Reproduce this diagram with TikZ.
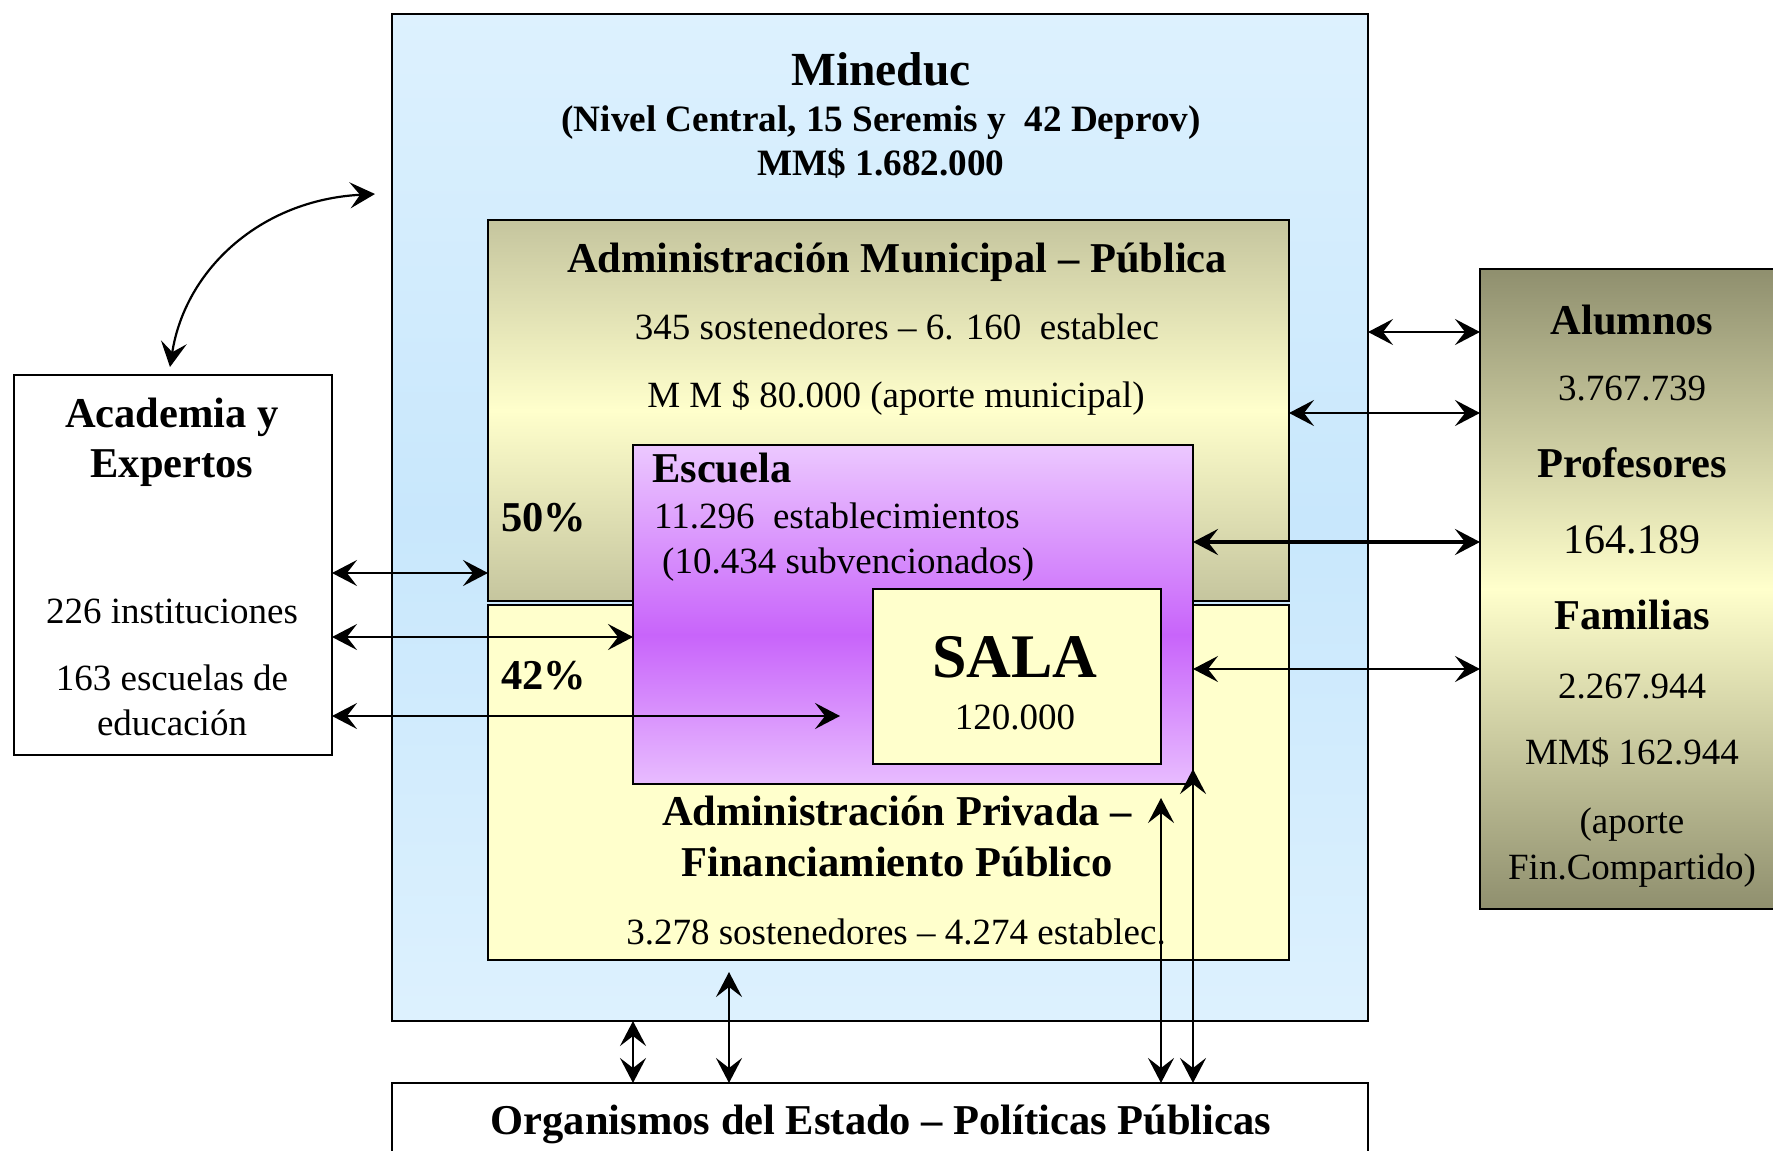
\documentclass[tikz,border=0pt]{standalone}
\usepackage{fontspec}
\setmainfont{Liberation Serif}
\usetikzlibrary{arrows.meta}
\definecolor{mbl}{RGB}{221,241,254}
\definecolor{mbm}{RGB}{200,231,252}
\definecolor{tan}{RGB}{197,197,158}
\definecolor{pyel}{RGB}{255,255,204}
\definecolor{lav}{RGB}{236,200,255}
\definecolor{lavb}{RGB}{232,188,255}
\definecolor{purp}{RGB}{200,100,250}
\definecolor{oliv}{RGB}{143,143,110}
\pgfdeclareverticalshading{escsh}{100bp}{color(0bp)=(lavb); color(25bp)=(lavb); color(47bp)=(purp); color(75bp)=(lav); color(100bp)=(lav)}
\begin{document}
\begin{tikzpicture}[x=1pt,y=-1pt,
  box/.style={draw=black, line width=2.3pt, inner sep=0pt, outer sep=0pt, anchor=north west},
  reg/.style={font=\fontsize{37}{44}\selectfont, inner sep=0pt, anchor=base},
  regl/.style={font=\fontsize{42}{50}\selectfont, inner sep=0pt, anchor=base},
  bld/.style={font=\fontsize{42.5}{50}\selectfont\bfseries, inner sep=0pt, anchor=base},
  bsm/.style={font=\fontsize{37.2}{44}\selectfont\bfseries, inner sep=0pt, anchor=base},
  tipx/.tip={Stealth[length=25pt,width=26pt,inset=10pt]},
  dbl/.style={tipx-tipx, line width=2.2pt},
]
\useasboundingbox (0,0) rectangle (1773,1151);
\clip (0,0) rectangle (1773,1151);

% boxes
\node[box, minimum width=976pt, minimum height=1007pt, top color=mbl, bottom color=mbl, middle color=mbm] (min) at (392,14) {};
\node[box, minimum width=801pt, minimum height=381pt, top color=tan, bottom color=tan, middle color=pyel] (mun) at (488,220) {};
\node[box, minimum width=801pt, minimum height=355pt, fill=pyel] (pri) at (488,605) {};
\node[box, minimum width=560pt, minimum height=339pt, shading=escsh] (esc) at (633,445) {};
\node[box, minimum width=288pt, minimum height=175pt, fill=pyel] (sala) at (873,589) {};
\node[box, minimum width=318pt, minimum height=380pt, fill=white] (aca) at (14,375) {};
\node[box, minimum width=340pt, minimum height=640pt, top color=oliv, bottom color=oliv, middle color=pyel] (rgt) at (1480,269) {};
\node[box, minimum width=976pt, minimum height=120pt, fill=white] (org) at (392,1083) {};

% Mineduc texts
\node[font=\fontsize{47.5}{56}\selectfont\bfseries, inner sep=0pt, anchor=base] (t1) at (881,85) {Mineduc};
\node[bsm] (t2) at (881,131) {(Nivel Central, 15 Seremis y\ \ 42 Deprov)};
\node[bsm] (t3) at (881,175) {MM\$ 1.682.000};

% Municipal
\node[bld] (m1) at (897,272) {Administración Municipal – Pública};
\node[reg] (m2) at (897,339) {345 sostenedores – 6. 160\ \ establec};
\node[reg] (m3) at (896,407) {M M \$ 80.000 (aporte municipal)};
\node[bld, anchor=base west] (p50) at (501,531) {50\%};
\node[bld, anchor=base west] (p42) at (501,689) {42\%};

% Escuela
\node[bld, anchor=base west] (e1) at (652,482) {Escuela};
\node[reg, anchor=base west] (e2) at (654,528) {11.296\ \ establecimientos};
\node[reg, anchor=base west] (e3) at (662,573) {(10.434 subvencionados)};

% Sala
\node[font=\fontsize{62}{70}\selectfont\bfseries, inner sep=0pt, anchor=base] (s1) at (1015,677) {SALA};
\node[reg] (s2) at (1015,729) {120.000};

% Privada
\node[bld] (v1) at (897,825) {Administración Privada –};
\node[bld] (v2) at (897,876) {Financiamiento Público};
\node[reg] (v3) at (896,944) {3.278 sostenedores – 4.274 establec.};

% Organismos
\node[bld] (o1) at (881,1134) {Organismos del Estado – Políticas Públicas};

% Academia
\node[bld] (a1) at (172,427) {Academia y};
\node[bld] (a2) at (172,477) {Expertos};
\node[reg] (a3) at (172,623) {226 instituciones};
\node[reg] (a4) at (172,690) {163 escuelas de};
\node[reg] (a5) at (172,735) {educación};

% Right
\node[bld] (r1) at (1632,334) {Alumnos};
\node[reg] (r2) at (1632,400) {3.767.739};
\node[bld] (r3) at (1632,477) {Profesores};
\node[regl] (r4) at (1632,553) {164.189};
\node[bld] (r5) at (1632,629) {Familias};
\node[reg] (r6) at (1632,698) {2.267.944};
\node[reg] (r7) at (1632,764) {MM\$ 162.944};
\node[reg] (r8) at (1632,833) {(aporte};
\node[reg] (r9) at (1632,879) {Fin.Compartido)};

% free ends
\coordinate (cA) at (170,367);
\coordinate (cM) at (375,194);
\coordinate (stip) at (840,716);
\coordinate (jt) at (729,972);
\coordinate (kt) at (1161,798);
\coordinate (lt) at (1193,769);

% connectors
\draw[dbl] (cA) .. controls (185,270) and (260,200) .. (cM);
\draw[dbl] (aca.east |- 0,573) -- (mun.west |- 0,573);
\draw[dbl] (aca.east |- 0,637) -- (esc.west |- 0,637);
\draw[dbl] (aca.east |- 0,716) -- (stip);
\draw[dbl] (min.east |- 0,332) -- (rgt.west |- 0,332);
\draw[dbl] (mun.east |- 0,413) -- (rgt.west |- 0,413);
\draw[dbl, line width=4pt] (esc.east |- 0,542) -- (rgt.west |- 0,542);
\draw[dbl] (esc.east |- 0,669) -- (rgt.west |- 0,669);
\draw[dbl] (min.south -| 633,0) -- (org.north -| 633,0);
\draw[dbl] (jt) -- (org.north -| 729,0);
\draw[dbl] (kt) -- (org.north -| 1161,0);
\draw[dbl] (lt) -- (org.north -| 1193,0);
\end{tikzpicture}
\end{document}
